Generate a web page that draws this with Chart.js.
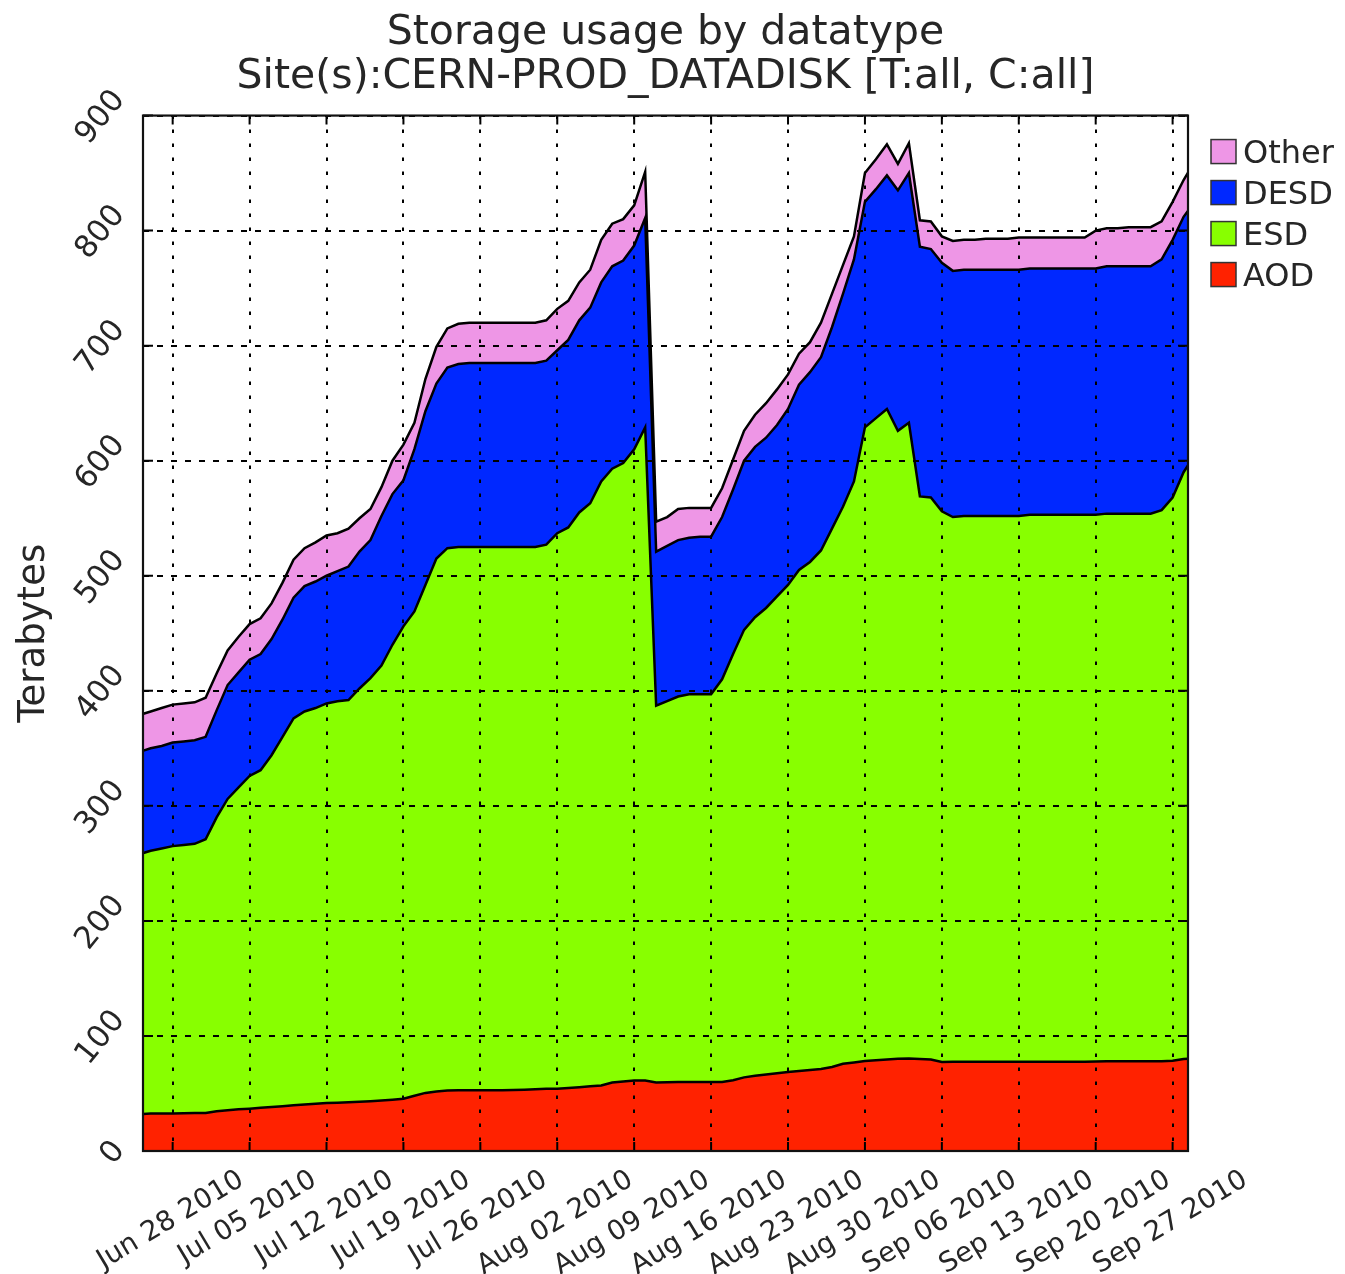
<!DOCTYPE html>
<html>
<head>
<meta charset="utf-8">
<script src="https://cdn.jsdelivr.net/npm/chart.js@4/dist/chart.umd.min.js"></script>
<style>
html, body { margin: 0; padding: 0; background: #fff; }
#wrap { width: 1345px; height: 1274px; position: relative; }
</style>
</head>
<body>
<div id="wrap"><canvas id="c"></canvas></div>
<script>
// ---------- data ----------
const titleLines = ['Storage usage by datatype', 'Site(s):CERN-PROD_DATADISK [T:all, C:all]'];
const yAxisTitle = 'Terabytes';

// days counted from Jun 28 2010 (day 0)
const dayOffsets = [
  -3, -2, -1, 0, 1, 2, 3, 4, 5, 6,
  7, 8, 9, 10, 11, 12, 13, 14, 15, 16,
  17, 18, 19, 20, 21, 22, 23, 24, 25, 26,
  27, 28, 29, 30, 31, 32, 33, 34, 35, 36,
  37, 38, 39, 40, 41, 42, 43, 44, 45, 46,
  47, 48, 49, 50, 51, 52, 53, 54, 55, 56,
  57, 58, 59, 60, 61, 62, 63, 64, 65, 66,
  67, 68, 69, 70, 71, 72, 73, 74, 75, 76,
  77, 78, 79, 80, 81, 82, 83, 84, 85, 86,
  87, 88, 89, 90, 91, 92, 93
];

const xTickDays = [0, 7, 14, 21, 28, 35, 42, 49, 56, 63, 70, 77, 84, 91];
const xTickLabels = ['Jun 28 2010', 'Jul 05 2010', 'Jul 12 2010', 'Jul 19 2010', 'Jul 26 2010',
  'Aug 02 2010', 'Aug 09 2010', 'Aug 16 2010', 'Aug 23 2010', 'Aug 30 2010',
  'Sep 06 2010', 'Sep 13 2010', 'Sep 20 2010', 'Sep 27 2010'];
const yTicks = [0, 100, 200, 300, 400, 500, 600, 700, 800, 900];

const seriesNames = ['AOD', 'ESD', 'DESD', 'Other'];
const seriesColors = ['#FF2200', '#88FF00', '#0028FF', '#EE96E6'];

const aod = [
  32, 32.5, 32.5, 32.6, 32.8, 33, 33, 34.5, 35.5, 36.2,
  36.8, 37.5, 38.2, 39, 39.8, 40.4, 41, 41.7, 42, 42.4,
  42.8, 43.3, 43.8, 44.5, 45.4, 48, 50.5, 51.8, 52.5, 52.7,
  52.7, 52.7, 52.7, 52.7, 53, 53.3, 53.6, 54, 54.2, 54.8,
  55.4, 56.2, 57, 59.5, 60.5, 61.3, 61.3, 59.5, 59.8, 60,
  60, 60, 60, 60, 61.5, 64, 65.5, 66.5, 67.5, 68.6,
  69.5, 70.5, 71.3, 73, 75.8, 77, 78.2, 78.8, 79.5, 80.2,
  80.3, 80, 79.5, 77.3, 77.5, 77.5, 77.5, 77.5, 77.5, 77.5,
  77.5, 77.5, 77.5, 77.5, 77.5, 77.5, 77.5, 77.8, 78, 78,
  78, 78, 78, 78, 78.5, 80, 80.5
];
const esd = [
  226, 228.5, 230.5, 232.4, 233.2, 234, 238, 255.5, 270.5, 279.8,
  289.2, 293.5, 305.8, 321, 336.2, 341.6, 344, 347.3, 349, 349.6,
  359.2, 367.7, 378.2, 395.5, 410.6, 421, 441.5, 463.2, 471.5, 472.3,
  472.3, 472.3, 472.3, 472.3, 472, 471.7, 471.4, 473, 482.8, 487.2,
  499.6, 506.8, 525, 533.5, 537.5, 548.7, 567.7, 327.5, 331.2, 335,
  337, 337, 337, 350, 370.5, 389, 398.5, 405.5, 414.5, 423.4,
  435.5, 441.5, 450.7, 468, 484.2, 505, 550.8, 558.2, 565.5, 545.8,
  552.7, 489, 488.5, 478.7, 473.5, 474.5, 474.5, 474.5, 474.5, 474.5,
  474.5, 475.5, 475.5, 475.5, 475.5, 475.5, 475.5, 475.2, 476, 476,
  476, 476, 476, 479, 489.5, 510, 524.5
];
const desd = [
  89, 89, 89, 90, 90, 90, 89, 93, 99, 100,
  101, 101, 101, 102, 105, 109, 110, 111, 113, 116,
  119, 120, 130, 131, 127, 141, 151, 152, 157, 159,
  160, 160, 160, 160, 160, 160, 160, 160, 159, 163,
  167, 170, 173, 176, 176, 177, 182, 134, 135, 136,
  136, 137, 137, 141, 143, 147, 148, 148, 149, 153,
  161, 165, 168, 175, 185, 193, 196, 199, 203, 209,
  217, 217, 216, 216, 214, 214, 214, 214, 214, 214,
  214, 214, 214, 214, 214, 214, 214, 214, 215, 215,
  215, 215, 215, 218, 224, 222, 220
];
const other = [
  32, 32, 33, 33, 33, 33, 34, 32, 30, 31,
  31, 31, 31, 32, 33, 33, 34, 35, 33, 33,
  29, 27, 25, 29, 31, 23, 28, 32, 34, 35,
  35, 35, 35, 35, 35, 35, 35, 35, 36, 34,
  33, 33, 37, 37, 36, 35, 40, 26, 25, 27,
  26, 25, 25, 25, 26, 26, 28, 30, 31, 30,
  27, 26, 30, 29, 25, 20, 25, 26, 27, 23,
  26, 23, 24, 23, 26, 26, 26, 27, 27, 27,
  28, 27, 27, 27, 27, 27, 27, 33, 33, 33,
  34, 34, 34, 33, 33, 32, 35
];
const seriesValues = [aod, esd, desd, other];

// ---------- drawing ----------
const FONT = "'DejaVu Sans', 'Liberation Sans', sans-serif";
const TEXT = '#262626';
Chart.defaults.font.family = FONT;

const toPoints = arr => arr.map((v, i) => ({ x: dayOffsets[i], y: v }));

const decor = {
  id: 'decor',
  afterDraw(chart) {
    const { ctx, chartArea: a, scales } = chart;
    const xs = scales.x, ys = scales.y;
    ctx.save();

    // inward tick marks
    ctx.strokeStyle = '#000';
    ctx.lineWidth = 2;
    ctx.setLineDash([]);
    ctx.beginPath();
    xTickDays.forEach(d => {
      const px = xs.getPixelForValue(d);
      ctx.moveTo(px, a.top); ctx.lineTo(px, a.top + 9);
      ctx.moveTo(px, a.bottom); ctx.lineTo(px, a.bottom - 9);
    });
    yTicks.forEach(v => {
      const py = ys.getPixelForValue(v);
      ctx.moveTo(a.left, py); ctx.lineTo(a.left + 10, py);
      ctx.moveTo(a.right, py); ctx.lineTo(a.right - 10, py);
    });
    ctx.stroke();

    // frame
    ctx.strokeStyle = '#111';
    ctx.lineWidth = 2.2;
    ctx.strokeRect(a.left, a.top, a.right - a.left, a.bottom - a.top);

    ctx.fillStyle = TEXT;

    // x tick labels (rotated 30°, centered on tick)
    const xsz = 27.5;
    ctx.font = xsz + 'px ' + FONT;
    ctx.textAlign = 'center';
    ctx.textBaseline = 'alphabetic';
    const r30 = 31 * Math.PI / 180;
    xTickDays.forEach((d, i) => {
      const label = xTickLabels[i];
      const w = ctx.measureText(label).width;
      const h = 0.95 * xsz;
      const bboxH = w * Math.sin(r30) + h * Math.cos(r30);
      const cx = xs.getPixelForValue(d) - 3;
      const cy = a.bottom + 14 + bboxH / 2;
      ctx.save();
      ctx.translate(cx, cy);
      ctx.rotate(-r30);
      ctx.fillText(label, 0, 0.33 * xsz);
      ctx.restore();
    });

    // y tick labels (rotated, right edge of box aligned)
    const ysz = 31;
    ctx.font = ysz + 'px ' + FONT;
    const r50 = 51 * Math.PI / 180;
    yTicks.forEach(v => {
      const label = String(v);
      const w = ctx.measureText(label).width;
      const h = 0.75 * ysz;
      const bboxW = w * Math.cos(r50) + h * Math.sin(r50);
      const cx = a.left - 17 - bboxW / 2;
      const cy = ys.getPixelForValue(v);
      ctx.save();
      ctx.translate(cx, cy);
      ctx.rotate(-r50);
      ctx.fillText(label, 0, 0.36 * ysz);
      ctx.restore();
    });

    // y axis title
    const tsz = 37;
    ctx.font = tsz + 'px ' + FONT;
    ctx.save();
    ctx.translate(35, (a.top + a.bottom) / 2);
    ctx.rotate(-Math.PI / 2);
    ctx.fillText(yAxisTitle, 0, 0.245 * tsz);
    ctx.restore();

    // legend (reversed order)
    const lsz = 32;
    ctx.font = lsz + 'px ' + FONT;
    ctx.textAlign = 'left';
    const ds = chart.data.datasets.slice().reverse();
    ds.forEach((d, i) => {
      const cy = a.top + 36 + i * 41;
      const bx = a.right + 23;
      ctx.fillStyle = d.backgroundColor;
      ctx.fillRect(bx, cy - 12, 25, 24);
      ctx.strokeStyle = '#333';
      ctx.lineWidth = 1.5;
      ctx.strokeRect(bx, cy - 12, 25, 24);
      ctx.fillStyle = TEXT;
      ctx.fillText(d.label, bx + 32, cy + 0.36 * lsz);
    });

    ctx.restore();
  }
};

new Chart(document.getElementById('c'), {
  type: 'line',
  data: {
    datasets: seriesNames.map((name, k) => ({
      label: name,
      data: toPoints(seriesValues[k]),
      backgroundColor: seriesColors[k],
      borderColor: '#000',
      borderWidth: 2.5,
      pointRadius: 0,
      pointHoverRadius: 0,
      tension: 0,
      fill: k === 0 ? 'origin' : '-1'
    }))
  },
  options: {
    responsive: true,
    maintainAspectRatio: false,
    animation: false,
    events: [],
    layout: { padding: { left: 0, right: 14, top: 0, bottom: 0 } },
    plugins: {
      legend: { display: false },
      tooltip: { enabled: false },
      title: {
        display: true,
        text: titleLines,
        color: TEXT,
        font: { size: 41, weight: 'normal', lineHeight: 1.08 },
        padding: { top: 11, bottom: 16 }
      }
    },
    scales: {
      x: {
        type: 'linear',
        min: -2.7,
        max: 92.4,
        afterBuildTicks: s => { s.ticks = xTickDays.map(v => ({ value: v })); },
        afterFit: s => { s.height = 123; s.paddingLeft = 0; s.paddingRight = 0; },
        ticks: { display: false },
        grid: { color: '#000', lineWidth: 2, drawTicks: false, z: 1 },
        border: { display: false, dash: [3.5, 10.5] }
      },
      y: {
        type: 'linear',
        stacked: true,
        min: 0,
        max: 900,
        afterBuildTicks: s => { s.ticks = yTicks.map(v => ({ value: v })); },
        afterFit: s => { s.width = 143; s.paddingTop = 0; s.paddingBottom = 0; },
        ticks: { display: false },
        grid: { color: '#000', lineWidth: 2, drawTicks: false, z: 1 },
        border: { display: false, dash: [6, 8] }
      },
      yR: {
        type: 'linear',
        position: 'right',
        display: true,
        afterFit: s => { s.width = 143; s.paddingTop = 0; s.paddingBottom = 0; },
        ticks: { display: false },
        grid: { display: false, drawTicks: false },
        border: { display: false }
      }
    }
  },
  plugins: [decor]
});
</script>
</body>
</html>
